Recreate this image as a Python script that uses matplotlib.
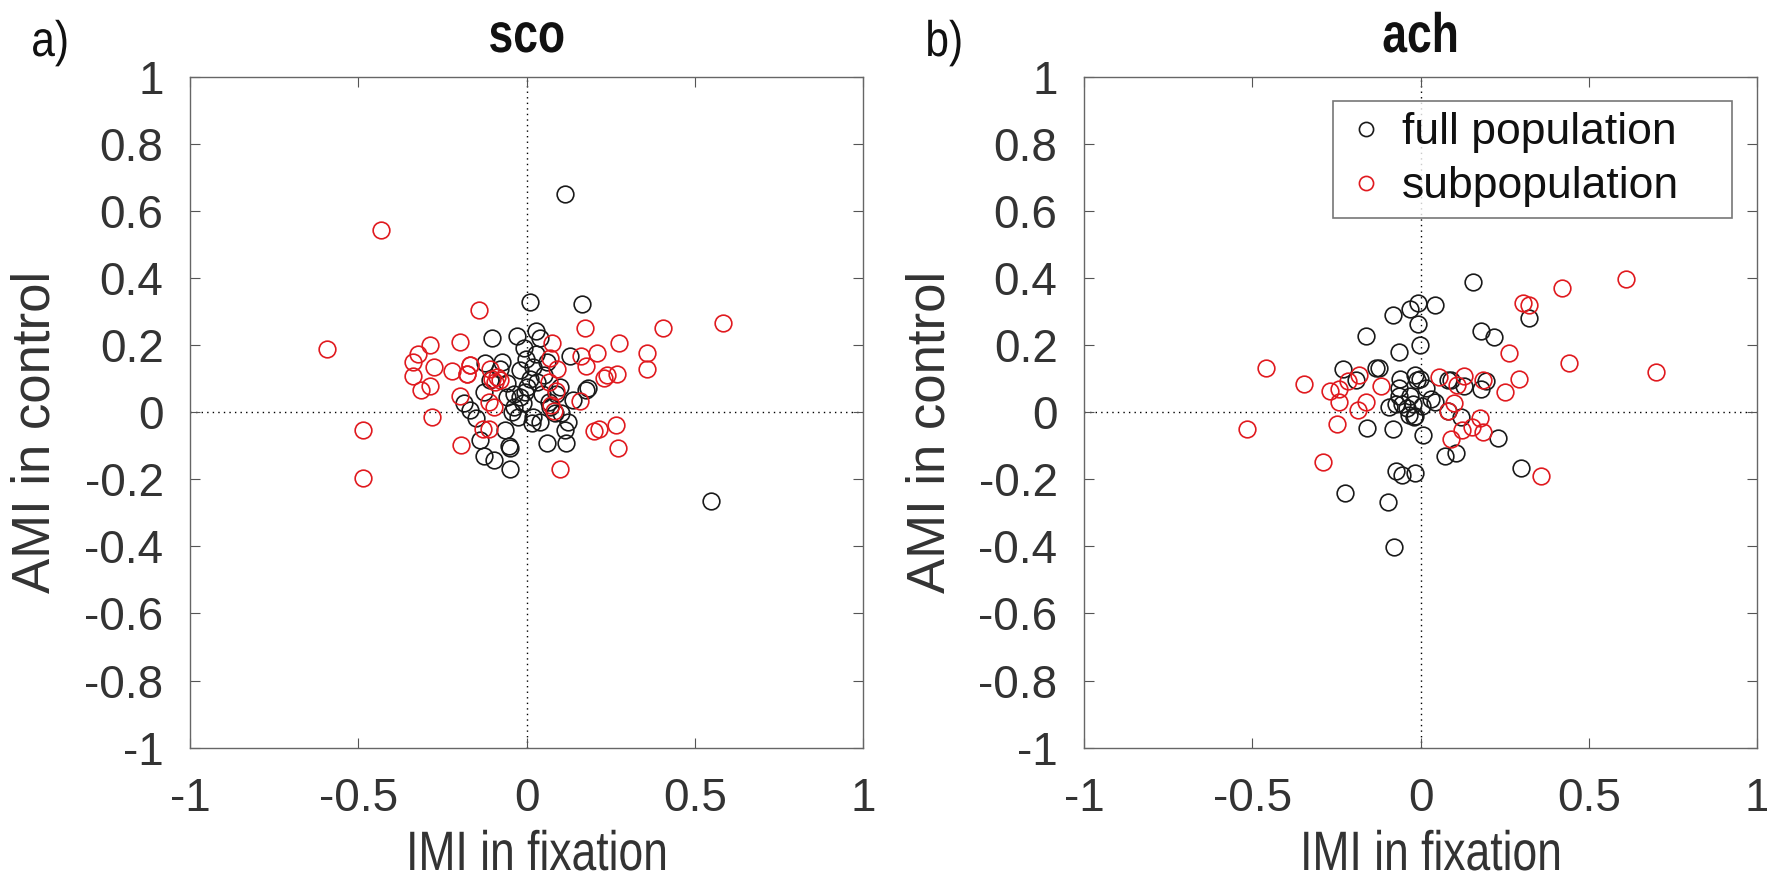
import matplotlib
matplotlib.use("Agg")
import matplotlib.pyplot as plt
from matplotlib.patheffects import AbstractPathEffect
from matplotlib.transforms import Affine2D
import numpy as np

plt.rcParams["font.family"] = ["Liberation Sans", "DejaVu Sans"]

# panel a) sco
SCO_FULL_X = [0.113, 0.548, 0.011, 0.164, -0.102, -0.029, 0.029, 0.039, -0.008, -0.123,
              -0.074, -0.002, 0.029, 0.128, 0.020, -0.020, -0.108, -0.128, -0.059, -0.039,
              0.000, 0.044, 0.098, 0.088, 0.177, 0.182, 0.138, -0.187, -0.167, -0.152,
              -0.059, -0.020, -0.039, -0.010, -0.025, 0.020, 0.015, 0.039, 0.069, 0.084,
              0.103, 0.123, 0.113, -0.064, -0.138, -0.054, -0.049, 0.059, 0.116, -0.128,
              -0.098, -0.049, 0.010, 0.050, -0.080, 0.060, -0.005, 0.030, 0.065, -0.045]
SCO_FULL_Y = [0.651, -0.266, 0.329, 0.323, 0.223, 0.228, 0.243, 0.223, 0.192, 0.147,
              0.149, 0.159, 0.174, 0.169, 0.135, 0.125, 0.095, 0.061, 0.086, 0.056,
              0.076, 0.056, 0.076, 0.056, 0.066, 0.071, 0.036, 0.027, 0.007, -0.018,
              0.046, 0.046, 0.017, 0.027, -0.013, -0.013, -0.032, -0.028, 0.017, -0.003,
              -0.003, -0.028, -0.052, -0.052, -0.082, -0.101, -0.106, -0.091, -0.091, -0.131,
              -0.141, -0.170, 0.100, 0.110, 0.130, 0.150, 0.060, 0.090, 0.030, 0.000]
SCO_SUB_X = [-0.434, -0.592, -0.143, -0.288, -0.198, -0.323, -0.339, -0.276, -0.339, -0.315,
             -0.287, -0.223, -0.169, -0.178, -0.102, -0.089, -0.078, -0.095, -0.198, -0.280,
             -0.485, -0.485, -0.195, -0.131, -0.112, -0.112, -0.096, 0.098, 0.074, 0.070,
             0.090, 0.065, 0.086, 0.073, 0.081, 0.173, 0.161, 0.175, 0.208, 0.274,
             0.230, 0.239, 0.268, 0.158, 0.356, 0.356, 0.406, 0.583, 0.264, 0.216,
             0.201, 0.270, -0.108, -0.167, -0.177]
SCO_SUB_Y = [0.543, 0.188, 0.306, 0.202, 0.209, 0.174, 0.150, 0.134, 0.107, 0.067,
             0.077, 0.123, 0.141, 0.115, 0.099, 0.105, 0.097, 0.090, 0.049, -0.015,
             -0.052, -0.197, -0.097, -0.049, -0.049, 0.031, 0.017, -0.169, 0.208, 0.162,
             0.128, 0.089, 0.065, 0.021, 0.005, 0.252, 0.168, 0.137, 0.176, 0.206,
             0.103, 0.111, 0.113, 0.035, 0.176, 0.130, 0.252, 0.266, -0.039, -0.049,
             -0.055, -0.105, 0.130, 0.140, 0.115]

# panel b) ach
ACH_FULL_X = [0.154, -0.009, -0.033, 0.043, -0.081, -0.009, -0.001, -0.163, -0.063, 0.321,
              0.179, 0.219, -0.231, -0.133, -0.123, -0.192, -0.061, -0.018, -0.003, -0.012,
              0.080, 0.089, 0.129, 0.180, 0.193, -0.064, -0.033, 0.017, -0.065, -0.055,
              -0.022, 0.004, 0.030, 0.043, -0.074, -0.094, -0.042, -0.035, -0.016, -0.020,
              0.080, 0.121, -0.159, -0.083, 0.008, 0.229, 0.072, 0.106, 0.299, -0.072,
              -0.057, -0.018, -0.226, -0.098, -0.078]
ACH_FULL_Y = [0.389, 0.325, 0.309, 0.321, 0.291, 0.263, 0.201, 0.227, 0.179, 0.280,
              0.243, 0.225, 0.129, 0.132, 0.133, 0.095, 0.099, 0.111, 0.099, 0.095,
              0.097, 0.095, 0.079, 0.068, 0.092, 0.072, 0.049, 0.072, 0.049, 0.025,
              0.025, 0.019, 0.039, 0.032, 0.025, 0.016, 0.012, -0.008, -0.011, -0.015,
              0.005, -0.015, -0.047, -0.049, -0.068, -0.077, -0.131, -0.121, -0.165, -0.175,
              -0.188, -0.180, -0.241, -0.268, -0.401]
ACH_SUB_X = [0.610, 0.419, 0.304, 0.322, 0.261, 0.441, 0.699, -0.460, -0.346, -0.270,
             -0.244, -0.244, -0.215, -0.183, -0.119, -0.163, -0.186, -0.249, -0.291, -0.516,
             0.053, 0.108, 0.128, 0.184, 0.292, 0.250, 0.098, 0.080, 0.175, 0.151,
             0.124, 0.184, 0.091, 0.356]
ACH_SUB_Y = [0.399, 0.371, 0.327, 0.321, 0.176, 0.148, 0.121, 0.133, 0.085, 0.065,
             0.068, 0.032, 0.092, 0.112, 0.079, 0.032, 0.008, -0.035, -0.148, -0.049,
             0.105, 0.081, 0.108, 0.097, 0.100, 0.061, 0.028, 0.003, -0.017, -0.044,
             -0.052, -0.060, -0.080, -0.191]

PANELS = [("a)", "sco", SCO_FULL_X, SCO_FULL_Y, SCO_SUB_X, SCO_SUB_Y),
          ("b)", "ach", ACH_FULL_X, ACH_FULL_Y, ACH_SUB_X, ACH_SUB_Y)]
XTICKS = [-1, -0.5, 0, 0.5, 1]
YTICKS = [-1, -0.8, -0.6, -0.4, -0.2, 0, 0.2, 0.4, 0.6, 0.8, 1]
TXT = "#333333"


class Condense(AbstractPathEffect):
    """squeeze text glyphs horizontally around their centre (narrow MATLAB font look)"""
    def __init__(self, sx):
        super().__init__()
        self.sx = sx

    def draw_path(self, renderer, gc, tpath, affine, rgbFace=None):
        ext = tpath.get_extents()
        cx = (ext.x0 + ext.x1) / 2
        pre = Affine2D().translate(-cx, 0).scale(self.sx, 1).translate(cx, 0)
        renderer.draw_path(gc, tpath, pre + affine, rgbFace)


def fmt(v):
    return "0" if v == 0 else f"{v:g}"


W, H = 1767, 883
fig = plt.figure(figsize=(W / 100, H / 100), dpi=100)
# axes boxes in pixels: left, top, width, height
boxes = [(190, 77, 673.4, 670.6), (1084, 77, 673.4, 670.6)]

for (bx, by, bw, bh), (tag, title, fx, fy, sx, sy) in zip(boxes, PANELS):
    ax = fig.add_axes([bx / W, 1 - (by + bh) / H, bw / W, bh / H])
    ax.axhline(0, color="k", linestyle=(0, (1, 3)), linewidth=1.0, zorder=1)
    ax.axvline(0, color="k", linestyle=(0, (1, 3)), linewidth=1.0, zorder=1)
    ax.plot(fx, fy, "o", mfc="none", mec="#1a1a1a", ms=12, mew=1.2, label="full population")
    ax.plot(sx, sy, "o", mfc="none", mec="#e01a1f", ms=12, mew=1.2, label="subpopulation")
    ax.set_xlim(-1, 1)
    ax.set_ylim(-1, 1)
    ax.set_xticks(XTICKS)
    ax.set_xticklabels([fmt(v) for v in XTICKS])
    ax.set_yticks(YTICKS)
    ax.set_yticklabels([fmt(v) for v in YTICKS])
    ax.tick_params(direction="in", length=7, width=0.8, top=True, right=True,
                   labelsize=33, colors="#555555", labelcolor=TXT)
    ax.tick_params(axis="y", pad=19)
    ax.tick_params(axis="x", pad=21)
    for sp in ax.spines.values():
        sp.set_color("#666666")
        sp.set_linewidth(1.0)

    cx = bx + bw / 2
    fig.text((cx + 10) / W, 1 - 882 / H, "IMI in fixation", fontsize=40, color=TXT,
             ha="center", va="bottom", path_effects=[Condense(0.8)])
    fig.text((bx - 154) / W, 1 - 432 / H, "AMI in control", fontsize=38, color=TXT,
             rotation=90, ha="center", va="center")
    fig.text(cx / W, 1 - 52 / H, title, fontsize=40, fontweight="bold", color="#111111",
             ha="center", va="baseline", path_effects=[Condense(0.8)])
    fig.text((bx - 162) / W, 1 - 56 / H, tag, fontsize=36, color="#111111",
             ha="left", va="baseline", path_effects=[Condense(0.85)])

    if tag == "b)":
        leg = ax.legend(loc="upper left", bbox_to_anchor=(0.370, 0.790, 0.593, 0.174),
                        mode="expand", borderaxespad=0, fontsize=32, frameon=True,
                        fancybox=False, edgecolor="#555555", handletextpad=0.3,
                        borderpad=0.25, labelspacing=0.29, handlelength=1.0,
                        markerscale=0.85)
        leg.get_frame().set_linewidth(1.2)
        for t in leg.get_texts():
            t.set_color("#111111")

fig.savefig("out.png", dpi=100)
